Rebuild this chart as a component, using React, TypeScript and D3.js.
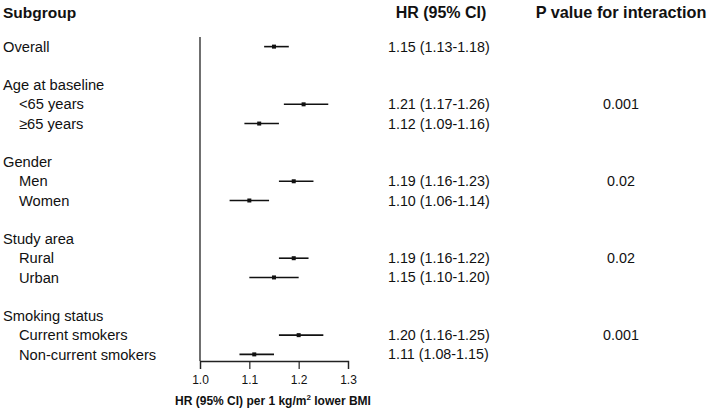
import React, { useEffect, useRef } from "react";
import * as d3 from "d3";

// rows of the forest plot, top to bottom
const labels = [
  "Overall", "", "Age at baseline", "<65 years", "≥65 years", "", "Gender", "Men", "Women",
  "", "Study area", "Rural", "Urban", "", "Smoking status", "Current smokers", "Non-current smokers",
];
const indent = [0, 0, 0, 1, 1, 0, 0, 1, 1, 0, 0, 1, 1, 0, 0, 1, 1];
const hr = [1.15, null, null, 1.21, 1.12, null, null, 1.19, 1.10, null, null, 1.19, 1.15, null, null, 1.20, 1.11];
const lower = [1.13, null, null, 1.17, 1.09, null, null, 1.16, 1.06, null, null, 1.16, 1.10, null, null, 1.16, 1.08];
const upper = [1.18, null, null, 1.26, 1.16, null, null, 1.23, 1.14, null, null, 1.22, 1.20, null, null, 1.25, 1.15];
const hrText = [
  "1.15 (1.13-1.18)", "", "", "1.21 (1.17-1.26)", "1.12 (1.09-1.16)", "", "", "1.19 (1.16-1.23)", "1.10 (1.06-1.14)",
  "", "", "1.19 (1.16-1.22)", "1.15 (1.10-1.20)", "", "", "1.20 (1.16-1.25)", "1.11 (1.08-1.15)",
];
const pText = ["", "", "", "0.001", "", "", "", "0.02", "", "", "", "0.02", "", "", "", "0.001", ""];
const xTicks = [1.0, 1.1, 1.2, 1.3];

export default function App() {
  const ref = useRef<SVGSVGElement>(null);

  useEffect(() => {
    const svg = d3.select(ref.current);
    svg.selectAll("*").remove();
    const font = "'Liberation Sans', Arial, sans-serif";

    const x = d3.scaleLinear().domain([1.0, 1.3]).range([200, 348]);
    const y = d3.scaleBand<number>().domain(d3.range(labels.length)).range([37, 364]);
    const cy = (i: number) => (y(i) as number) + y.bandwidth() / 2;

    // headers
    const head = svg.append("g").attr("font-family", font).attr("font-weight", "bold").attr("fill", "#111");
    head.append("text").attr("x", 3).attr("y", 18).attr("font-size", 15.5).text("Subgroup");
    head.append("text").attr("x", 441).attr("y", 18).attr("font-size", 16).attr("text-anchor", "middle").text("HR (95% CI)");
    head.append("text").attr("x", 621).attr("y", 18).attr("font-size", 16.3).attr("text-anchor", "middle").text("P value for interaction");

    // left labels
    svg.append("g").attr("font-family", font).attr("font-size", 14.7).attr("fill", "#111")
      .selectAll("text").data(labels).join("text")
      .attr("x", (d, i) => (indent[i] ? 19 : 3))
      .attr("y", (d, i) => cy(i))
      .attr("dy", "0.35em")
      .text((d) => d);

    // hr text
    svg.append("g").attr("font-family", font).attr("font-size", 14.3).attr("fill", "#111")
      .selectAll("text").data(hrText).join("text")
      .attr("x", 388)
      .attr("y", (d, i) => cy(i))
      .attr("dy", "0.35em")
      .text((d) => d);

    // p values
    svg.append("g").attr("font-family", font).attr("font-size", 14.3).attr("fill", "#111")
      .selectAll("text").data(pText).join("text")
      .attr("x", 621)
      .attr("text-anchor", "middle")
      .attr("y", (d, i) => cy(i))
      .attr("dy", "0.35em")
      .text((d) => d);

    // reference line
    svg.append("line").attr("x1", x(1)).attr("x2", x(1)).attr("y1", 37).attr("y2", 361)
      .attr("stroke", "#222").attr("stroke-width", 1.3);

    // axis
    const axis = svg.append("g").attr("transform", "translate(0,361)")
      .call(d3.axisBottom(x).tickValues(xTicks).tickFormat(d3.format(".1f")).tickSize(8).tickPadding(6));
    axis.select(".domain").attr("stroke", "#222").attr("stroke-width", 1.3);
    axis.selectAll(".tick line").attr("stroke", "#222").attr("stroke-width", 1.2);
    axis.selectAll("text").attr("font-family", font).attr("font-size", 12).attr("fill", "#111");

    const title = svg.append("text").attr("x", 273).attr("y", 405).attr("text-anchor", "middle")
      .attr("font-family", font).attr("font-weight", "bold").attr("font-size", 12).attr("fill", "#111");
    title.append("tspan").text("HR (95% CI) per 1 kg/m");
    title.append("tspan").attr("font-size", 8).attr("dy", -5).text("2");
    title.append("tspan").attr("dy", 5).text(" lower BMI");

    // CIs and points
    const rows = d3.range(labels.length).filter((i) => hr[i] != null);
    svg.append("g").selectAll("line").data(rows).join("line")
      .attr("x1", (i) => x(lower[i] as number))
      .attr("x2", (i) => x(upper[i] as number))
      .attr("y1", (i) => cy(i))
      .attr("y2", (i) => cy(i))
      .attr("stroke", "#111").attr("stroke-width", 1.6);
    svg.append("g").selectAll("rect").data(rows).join("rect")
      .attr("x", (i) => x(hr[i] as number) - 2)
      .attr("y", (i) => cy(i) - 2)
      .attr("width", 4).attr("height", 4)
      .attr("fill", "#111");
  }, []);

  return (
    <svg ref={ref} width={709} height={411} style={{ position: "absolute", left: 0, top: 0, background: "white" }} />
  );
}
